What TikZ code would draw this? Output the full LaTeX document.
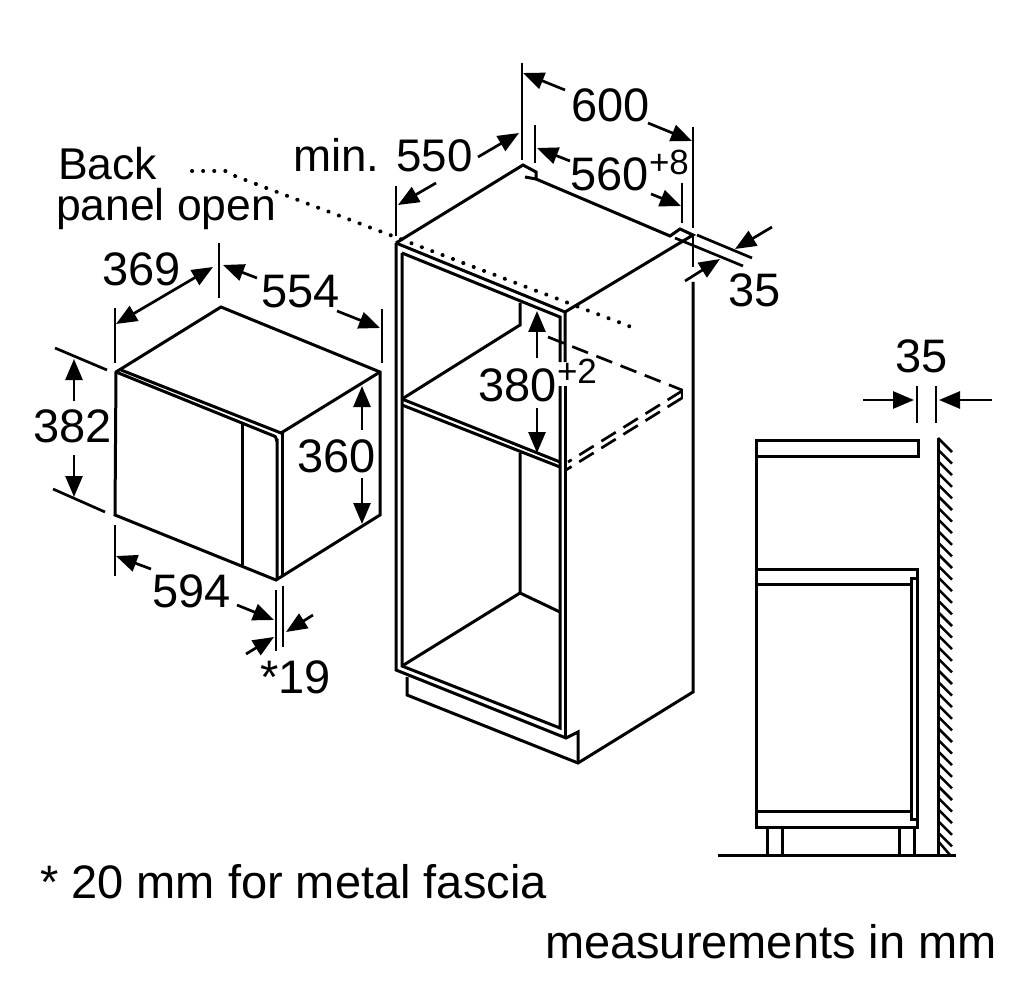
\documentclass[tikz,border=0pt]{standalone}
\usepackage{fontspec}
\setmainfont{Liberation Sans}
\usetikzlibrary{arrows.meta}
\newcommand{\bigtxt}{\fontsize{47}{47}\selectfont}
\newcommand{\midtxt}{\fontsize{44.5}{45}\selectfont}
\newcommand{\mintxt}{\fontsize{45.7}{46}\selectfont}
\newcommand{\suptxt}{\fontsize{35}{35}\selectfont}
\tikzset{
  obj/.style={line width=3pt,line join=miter,line cap=butt},
  thinl/.style={line width=2.7pt,line cap=butt},
  dimarr/.style={line width=2.7pt,-{Triangle[length=21pt,width=17pt]}},
  dimboth/.style={line width=2.7pt,{Triangle[length=21pt,width=17pt]}-{Triangle[length=21pt,width=17pt]}},
  dashl/.style={line width=2.7pt,dash pattern=on 17pt off 9pt},
  dotl/.style={line width=4pt,line cap=round,dash pattern=on 0.1pt off 11pt},
  lbl/.style={inner sep=0pt,outer sep=0pt,anchor=base west,font=\bigtxt,text=black},
  suplbl/.style={inner sep=0pt,outer sep=0pt,anchor=base west,font=\suptxt,text=black},
}
\begin{document}
\begin{tikzpicture}[x=1pt,y=-1pt]
\useasboundingbox (0,0) rectangle (1031,1000);
\fill[white] (0,0) rectangle (1031,1000);

% ---------- microwave ----------
\draw[obj] (116,372) -- (221,307) -- (380,372) -- (380,515) -- (276,580) -- (115,515) -- cycle;
\draw[obj] (121,370) -- (281,433) -- (380,372);
\draw[obj] (116,372) -- (274,436) to[out=22,in=-90] (277,441) -- (277,579);
\draw[obj] (282,433) -- (282,575);
\draw[obj] (242,423) -- (242,565);

% microwave dimensions
\draw[thinl] (115,308) -- (115,363);
\draw[thinl] (219,243) -- (219,298);
\draw[thinl] (382,309) -- (382,363);
\draw[dimboth] (213,267) -- (116,324);
\draw[dimarr] (257,278) -- (223,265);
\draw[dimarr] (337,311) -- (380,328);
\draw[thinl] (55,348) -- (107,370);
\draw[thinl] (53,489) -- (105,512);
\draw[dimarr] (74,401) -- (74,359);
\draw[dimarr] (74,455) -- (74,497);
\draw[dimarr] (362,430) -- (362,386);
\draw[dimarr] (362,478) -- (362,524);
\draw[thinl] (115,525) -- (115,576);
\draw[thinl] (276,590) -- (276,651);
\draw[thinl] (283,586) -- (283,647);
\draw[dimarr] (151,569) -- (116,556);
\draw[dimarr] (237,605) -- (274,620);
\draw[dimarr] (313,615) -- (286,632);
\draw[dimarr] (246,654) -- (274,637);

% ---------- cabinet ----------
\draw[obj] (396,243) -- (523,165) -- (536,172) -- (536,179) -- (525,177);
\draw[obj] (536,179) -- (670,236) -- (680,229) -- (693,235) -- (565,312);
\draw[obj] (396,243) -- (565,312) -- (565,362);
\draw[obj] (565,386) -- (565,738);
\draw[obj] (396,243) -- (396,670) -- (566,738) -- (578,732) -- (578,763);
\draw[obj] (402,253) -- (560,317) -- (560,362);
\draw[obj] (560,386) -- (560,728) -- (402,666) -- (402,253);
\draw[obj] (402,399) -- (560,462);
\draw[obj] (402,405) -- (560,467);
\draw[obj] (520,303) -- (520,325) -- (402,399);
\draw[obj] (520,453) -- (520,593) -- (560,612);
\draw[obj] (520,593) -- (402,666);
\draw[obj] (407,677) -- (407,695) -- (578,763) -- (693,692) -- (693,282);
\draw[thinl] (693,235) -- (693,267);

% dashed shelf
\draw[dashl] (548,337) -- (682,390);
\draw[dashl] (682,391) -- (568,462);
\draw[dashl] (682,398) -- (566,470);
\draw[thinl] (682,389) -- (682,399);

% dotted
\draw[dotl] (192,171) -- (226,171) -- (235,176) -- (634,328);

% cabinet dimensions
\draw[thinl] (522,63) -- (522,160);
\draw[thinl] (693,127) -- (693,228);
\draw[dimarr] (565,90) -- (523,73);
\draw[dimarr] (648,123) -- (692,141);
\draw[thinl] (396,186) -- (396,236);
\draw[dimarr] (478,157) -- (519,133);
\draw[dimarr] (436,183) -- (398,205);
\draw[thinl] (535,125) -- (535,163);
\draw[thinl] (682,183) -- (682,223);
\draw[dimarr] (570,161) -- (537,148);
\draw[dimarr] (651,194) -- (681,206);
\draw[thinl] (697,235) -- (752,258);
\draw[thinl] (675,238) -- (743,266);
\draw[dimarr] (772,227) -- (735,249);
\draw[dimarr] (685,281) -- (720,259);
\draw[dimarr] (537,358) -- (537,311);
\draw[dimarr] (537,408) -- (537,453);

% ---------- side view ----------
\draw[obj] (756,456) -- (756,440) -- (918,440) -- (918,456) -- cycle;
\draw[obj] (756,456) -- (756,827) -- (917,827) -- (917,569) -- (756,569);
\draw[obj] (756,584) -- (910,584);
\draw[obj] (917,578) -- (911,578) -- (911,819) -- (917,819);
\draw[obj] (756,811) -- (911,811);
\draw[obj] (767,827) -- (767,855);
\draw[obj] (782,827) -- (782,855);
\draw[obj] (899,827) -- (899,855);
\draw[obj] (914,827) -- (914,855);
\draw[obj] (718,855) -- (956,855);
\draw[obj] (938,438) -- (938,855);
\foreach \yy in {452,463.6,...,852}{
  \draw[line width=2.5pt] (938,\yy-14) -- (952,\yy);
}
\draw[line width=2.5pt] (938,841) -- (950,855);
\draw[thinl] (917,386) -- (917,423);
\draw[thinl] (936,386) -- (936,423);
\draw[dimarr] (863,400) -- (914,400);
\draw[dimarr] (992,400) -- (939,400);

% ---------- text ----------
\node[lbl,font=\midtxt] (tback) at (58,180) {Back};
\node[lbl,font=\midtxt] (tpanel) at (56,221) {panel open};
\node[lbl,font=\mintxt] (tmin) at (293,172) {min. 550};
\node[lbl] (t600) at (571,122) {600};
\node[lbl] (t560) at (570,191) {560};
\node[suplbl] (t560s) at (649,175) {+8};
\node[lbl] (t35a) at (728,307) {35};
\node[lbl] (t380) at (478,401) {380};
\node[suplbl] (t380s) at (557,384) {+2};
\node[lbl] (t35b) at (895,372) {35};
\node[lbl] (t369) at (102,286) {369};
\node[lbl] (t554) at (261,308) {554};
\node[lbl] (t382) at (33,442) {382};
\node[lbl] (t360) at (297,472) {360};
\node[lbl] (t594) at (152,607) {594};
\node[lbl] (t19) at (260,693) {*19};
\node[lbl] (tnote) at (40,898) {* 20 mm for metal fascia};
\node[lbl] (tunit) at (545,958) {measurements in mm};
\end{tikzpicture}
\end{document}
